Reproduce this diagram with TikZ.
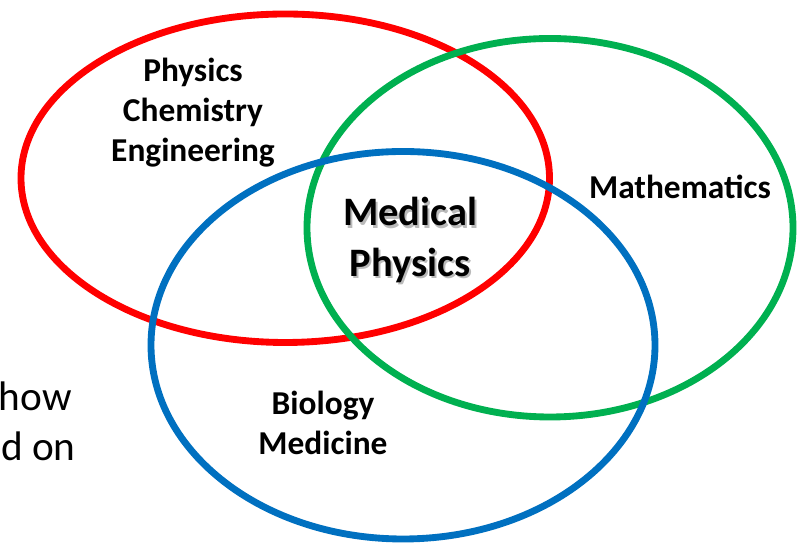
\documentclass[tikz,border=0pt]{standalone}
\usepackage{fontspec}
\setmainfont{Carlito}
\usepackage{xcolor}
\definecolor{vred}{HTML}{FF0000}
\definecolor{vgreen}{HTML}{00B050}
\definecolor{vblue}{HTML}{0070C0}
\tikzset{
  ring/.style={line width=3.9pt},
  field/.style={align=center, font=\fontsize{19}{22.8}\selectfont\bfseries, inner sep=0pt},
  core/.style={align=center, font=\fontsize{23}{28.5}\selectfont\bfseries, inner sep=0pt},
  side/.style={anchor=east, font=\fontsize{23.5}{28}\selectfont, inner sep=0pt}
}

\begin{document}
\begin{tikzpicture}
\useasboundingbox (0,0) rectangle (16.1,10.86);
% the three fields
\draw[ring, vred] (5.705,7.295) ellipse (5.285 and 3.285);
\draw[ring, vgreen] (11.0,6.305) ellipse (4.86 and 3.785);
\draw[ring, vblue] (8.06,3.955) ellipse (5.04 and 3.875);

\node[field] (phys) at (3.86,8.6) {Physics\\Chemistry\\Engineering};
\node[field] (math) at (13.6,7.12) {Mathematics};
\node[field] (bio) at (6.46,2.4) {Biology\\Medicine};

% overlap in the middle, with a soft shadow
\node[core, text=black!45, opacity=.6] (medshadow) at (8.24,6.01) {Medical\\Physics};
\node[core] (med) at (8.2,6.06) {Medical\\Physics};

% text running in from the left
\node[side] (how) at (1.44,2.94) {how};
\node[side] (don) at (1.52,1.94) {d on};
\end{tikzpicture}
\end{document}
